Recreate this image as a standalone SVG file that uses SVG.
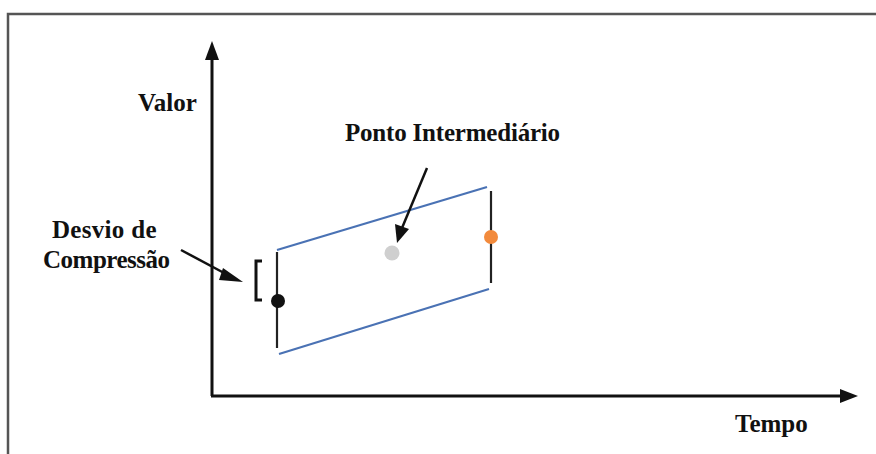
<svg xmlns="http://www.w3.org/2000/svg" width="876" height="454" viewBox="0 0 876 454">
<style>
.ax{stroke:#111;stroke-width:3;fill:none;}
.ptr{stroke:#111;stroke-width:2.5;fill:none;}
.band{stroke:#4a72b4;stroke-width:2.2;fill:none;}
.vl{stroke:#222;stroke-width:2.2;fill:none;}
</style>
<rect x="0" y="0" width="876" height="454" fill="#fff"/>
<path d="M8,454 L8,14 L876,14" stroke="#555" stroke-width="2.5" fill="none"/>
<g id="axes">
<line class="ax" x1="212" y1="396" x2="212" y2="58"/>
<path d="M205,60 L212,41 L219,60 Z" fill="#111"/>
<line class="ax" x1="211" y1="396" x2="842" y2="396"/>
<path d="M840,389 L858,396 L840,403 Z" fill="#111"/>
</g>
<g id="band">
<line class="band" x1="277" y1="250" x2="487" y2="187"/>
<line class="band" x1="279" y1="354" x2="489" y2="289"/>
<line class="vl" x1="277" y1="252" x2="277" y2="348"/>
<line class="vl" x1="491" y1="191" x2="491" y2="283"/>
</g>
<g id="pontoInicial"><circle cx="278" cy="301" r="7" fill="#111"/></g>
<g id="pontoIntermediario"><circle cx="392" cy="253" r="7.5" fill="#cfcfcf"/></g>
<g id="pontoFinal"><circle cx="491" cy="237" r="7" fill="#f28a3c"/></g>
<g id="bracket"><path d="M262,261 L256,261 L256,300 L262,300" stroke="#111" stroke-width="3" fill="none"/></g>
<g id="connectors">
<path d="M181,250 L226,274" class="ptr"/>
<path d="M223,268 L243,282 L219,280 Z" fill="#111"/>
<path d="M427,168 L402,228" class="ptr"/>
<path d="M395,224 L397,243 L409,229 Z" fill="#111"/>
</g>
<g id="labels" font-family="Liberation Serif, serif" font-weight="bold" fill="#111" font-size="25">
<text x="138" y="111">Valor</text>
<text x="345" y="141" letter-spacing="-0.2">Ponto Intermediário</text>
<text x="52" y="238" letter-spacing="0.3">Desvio de</text>
<text x="43" y="268" letter-spacing="-0.5">Compressão</text>
<text x="735" y="432">Tempo</text>
</g>
</svg>
